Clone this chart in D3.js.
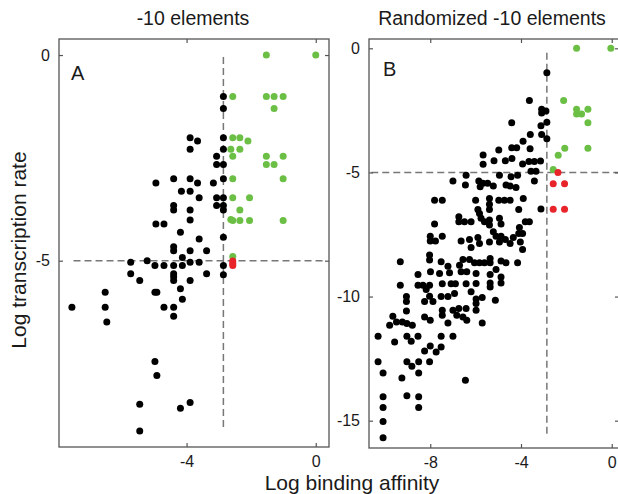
<!DOCTYPE html>
<html>
<head>
<meta charset="utf-8">
<script src="https://cdn.jsdelivr.net/npm/d3@7"></script>
<style>
  body { margin: 0; background: #fff; }
  svg { display: block; font-family: "Liberation Sans", Arial, sans-serif; }
</style>
</head>
<body>
<svg id="chart" width="618" height="494"></svg>
<script>
// panel A: -10 elements  [log binding affinity, log transcription rate]
const aBlack = [
  [-2.86,-1.01],[-2.86,-1.30],[-3.89,-2.01],[-3.66,-2.09],[-2.86,-2.01],[-3.89,-2.29],[-2.86,-2.29],
  [-3.07,-2.46],[-3.07,-2.66],[-2.86,-2.66],[-4.95,-3.11],[-4.40,-3.01],[-3.89,-3.01],[-3.66,-3.11],
  [-3.17,-3.11],[-2.86,-3.01],[-4.16,-3.31],[-3.89,-3.31],[-3.61,-3.47],[-3.07,-3.47],[-2.86,-3.47],
  [-4.40,-3.66],[-4.40,-3.77],[-3.89,-3.77],[-3.07,-3.66],[-2.86,-3.66],[-2.86,-3.77],[-3.89,-4.01],
  [-4.95,-4.11],[-4.70,-4.11],[-4.19,-4.31],[-3.61,-4.47],[-2.86,-4.43],
  [-4.40,-4.66],[-4.40,-4.76],[-3.89,-4.76],[-3.38,-4.76],[-4.13,-4.92],[-5.73,-5.04],[-5.22,-5.00],
  [-4.98,-5.12],[-4.70,-5.12],[-4.40,-5.12],[-4.13,-5.12],[-3.89,-5.04],[-3.61,-5.04],[-2.86,-5.12],
  [-5.73,-5.32],[-5.45,-5.48],[-4.40,-5.32],[-4.40,-5.39],[-4.40,-5.48],[-3.89,-5.48],[-3.38,-5.32],
  [-2.86,-5.34],[-6.52,-5.77],[-4.98,-5.77],[-4.92,-5.77],[-4.19,-5.68],[-4.13,-5.94],[-7.55,-6.13],
  [-6.52,-6.13],[-4.70,-6.13],[-4.40,-6.13],[-4.40,-6.35],[-6.47,-6.49],[-4.98,-7.45],[-4.92,-7.79],
  [-5.45,-8.49],[-4.19,-8.59],[-3.89,-8.45],[-5.45,-9.14]
];
const aGreen = [
  [-1.53,0],[0,0],[-2.57,-1.01],[-1.53,-1.01],[-1.29,-1.01],[-1.01,-1.01],[-1.29,-1.30],
  [-2.57,-2.01],[-2.35,-2.01],[-2.10,-2.09],[-2.63,-2.29],[-2.35,-2.29],[-2.57,-2.46],[-1.53,-2.46],
  [-1.01,-2.46],[-1.53,-2.66],[-1.29,-2.66],[-2.57,-3.01],[-1.01,-3.01],[-2.57,-3.47],[-2.05,-3.47],
  [-2.35,-3.77],[-2.63,-4.00],[-2.57,-4.02],[-2.35,-4.02],[-2.05,-4.02],[-1.01,-4.02],[-2.57,-4.90]
];
const aRed = [[-2.57,-5.01],[-2.57,-5.07],[-2.57,-5.12]];

// panel B: randomized -10 elements
const bBlack = [
  [-2.86,-0.98],[-3.63,-2.10],[-3.09,-2.45],[-3.09,-2.61],[-2.90,-2.53],[-2.86,-2.98],[-4.41,-3.00],
  [-3.12,-3.12],[-2.86,-3.64],[-3.09,-3.47],[-3.59,-3.47],[-3.91,-3.74],[-3.60,-4.05],[-4.41,-4.01],
  [-4.19,-4.01],[-4.98,-4.10],[-5.67,-4.30],[-5.19,-4.53],[-4.69,-4.53],[-4.40,-4.44],[-3.93,-4.66],
  [-3.65,-4.56],[-3.14,-4.54],[-5.67,-4.67],[-3.41,-4.56],
  [-3.56,-4.95],[-3.34,-4.95],[-7.00,-5.34],[-6.42,-5.11],[-6.45,-5.51],[-5.86,-5.34],[-5.68,-5.44],
  [-5.80,-5.58],[-5.47,-5.44],[-5.22,-5.55],[-4.95,-5.11],[-4.66,-5.51],[-4.48,-5.55],[-4.22,-5.61],
  [-4.15,-5.11],[-4.44,-5.17],[-3.41,-5.34],[-7.81,-6.12],[-7.47,-6.12],[-6.00,-6.12],[-5.39,-6.05],
  [-5.39,-6.28],[-5.39,-6.49],[-4.98,-6.12],[-4.73,-6.12],[-4.48,-6.12],[-3.90,-6.05],[-5.90,-6.49],
  [-5.83,-6.65],[-4.10,-6.49],[-3.12,-6.47],[-7.81,-7.08],[-6.74,-6.79],[-6.74,-6.99],[-6.49,-6.99],
  [-6.20,-6.99],[-5.76,-6.85],[-5.61,-6.99],[-5.39,-6.92],[-5.39,-7.12],[-4.95,-6.85],[-4.88,-7.08],
  [-3.81,-6.99],[-3.63,-6.99],[-4.07,-7.22],[-8.00,-7.57],[-8.00,-7.76],[-7.77,-7.76],[-7.47,-7.57],
  [-6.64,-7.76],[-6.27,-7.70],[-6.20,-8.02],[-5.90,-7.62],[-5.83,-7.86],[-5.39,-7.80],[-5.22,-7.39],
  [-5.10,-7.57],[-4.88,-7.57],[-4.95,-7.80],[-4.69,-7.70],[-4.34,-7.62],[-4.10,-7.46],[-3.93,-7.46],
  [-4.03,-7.80],[-4.48,-7.86],[-3.93,-8.10],
  [-9.32,-8.60],[-8.03,-8.33],[-8.03,-8.53],[-7.52,-8.60],[-7.22,-8.78],[-6.71,-8.74],[-6.56,-8.51],
  [-6.27,-8.51],[-8.54,-9.11],[-7.99,-9.00],[-7.59,-9.07],[-7.15,-9.04],[-6.64,-9.00],[-6.39,-9.00],
  [-9.32,-9.54],[-8.54,-9.54],[-8.32,-9.54],[-8.03,-9.54],[-8.18,-9.72],[-7.47,-9.48],[-7.08,-9.48],
  [-6.89,-9.48],[-6.42,-9.48],[-9.05,-10.00],[-9.05,-10.20],[-8.25,-10.20],[-7.88,-10.20],
  [-8.03,-9.99],[-7.52,-10.00],[-7.22,-10.00],[-6.93,-9.88],[-9.05,-10.58],[-8.25,-10.82],
  [-8.00,-10.95],[-9.65,-10.79],[-7.47,-10.55],[-7.47,-10.75],[-7.00,-10.55],[-6.74,-10.48],
  [-6.42,-10.48],[-6.83,-10.75],[-6.56,-10.82],[-6.39,-10.95],[-9.79,-11.16],[-9.49,-11.02],
  [-9.23,-11.02],[-9.03,-11.09],[-8.79,-11.16],[-7.22,-11.06],
  [-6.05,-8.64],[-5.83,-8.64],[-5.61,-8.64],[-5.36,-8.64],[-5.36,-8.47],[-4.88,-8.57],[-4.66,-8.64],
  [-4.15,-8.64],[-5.98,-9.07],[-5.36,-9.11],[-5.10,-8.91],[-4.88,-9.21],[-5.98,-9.47],[-5.36,-9.45],
  [-5.36,-9.61],[-4.88,-9.45],[-6.20,-9.81],[-5.98,-10.10],[-5.98,-10.28],[-5.71,-10.04],
  [-5.13,-10.15],[-5.98,-10.55],[-5.71,-11.06],
  [-10.30,-11.60],[-9.57,-11.83],[-9.03,-11.60],[-8.84,-11.80],[-8.54,-11.60],[-7.52,-11.60],
  [-7.00,-11.60],[-8.25,-12.19],[-8.00,-11.99],[-7.74,-12.23],[-7.52,-12.03],[-10.30,-12.63],
  [-9.03,-12.63],[-8.81,-12.81],[-8.51,-12.63],[-8.03,-12.63],[-10.08,-13.08],[-9.25,-13.28],
  [-8.51,-13.08],[-6.45,-13.37],[-10.08,-14.04],[-10.08,-14.47],[-10.08,-15.03],[-10.08,-15.69],
  [-9.03,-14.00],[-8.51,-14.04],[-8.51,-14.47]
];
const bGreen = [
  [-1.55,0],[-0.04,0],[-2.12,-2.10],[-1.55,-2.45],[-1.05,-2.45],[-1.55,-2.65],[-1.33,-2.65],
  [-1.05,-3.00],[-2.07,-4.03],[-1.05,-4.03],[-2.36,-4.31],[-2.58,-4.88]
];
const bRed = [[-2.37,-5.00],[-2.58,-5.46],[-2.08,-5.46],[-2.58,-6.48],[-2.08,-6.48]];

const aXTicks = [-4, 0];
const aYTicks = [0, -5];
const bXTicks = [-8, -4, 0];
const bYTicks = [0, -5, -10, -15];
const cutX = -2.86;
const cutY = -5;

const svg = d3.select('#chart');
const font = '"Liberation Sans", Arial, sans-serif';
const ink = '#1a1a1a';

function panel(opts) {
  const x = d3.scaleLinear(opts.xDomain, [opts.left, opts.right]);
  const y = d3.scaleLinear(opts.yDomain, [opts.top, opts.bottom]);
  const g = svg.append('g');

  // dashed threshold lines
  g.append('line').attr('x1', x(cutX)).attr('x2', x(cutX)).attr('y1', y(opts.vLine[0])).attr('y2', y(opts.vLine[1]))
    .attr('stroke', '#777').attr('stroke-width', 1.5).attr('stroke-dasharray', '7,4');
  g.append('line').attr('x1', x(opts.hLine[0])).attr('x2', x(opts.hLine[1])).attr('y1', y(cutY)).attr('y2', y(cutY))
    .attr('stroke', '#777').attr('stroke-width', 1.5).attr('stroke-dasharray', '7,4');

  const dots = (data, color) => g.append('g').selectAll('circle').data(data).join('circle')
    .attr('cx', (d) => x(d[0])).attr('cy', (d) => y(d[1])).attr('r', 3.5).attr('fill', color);
  dots(opts.black, '#000');
  dots(opts.green, '#6bbf45');
  dots(opts.red, '#e8232a');

  // axes with inward ticks, frame drawn separately; plain hyphen minus like the original
  const fmt = (d) => String(d);
  const ax = (axis, tx, ty, labels) => {
    const a = g.append('g').attr('transform', `translate(${tx},${ty})`).call(axis);
    a.select('.domain').remove();
    a.selectAll('line').attr('stroke', '#555').attr('stroke-width', 1.2);
    a.selectAll('text').attr('font-family', font).attr('font-size', 16).attr('fill', ink);
    if (!labels) a.selectAll('text').remove();
  };
  ax(d3.axisBottom(x).tickValues(opts.xTicks).tickFormat(fmt).tickSize(-4).tickPadding(9), 0, opts.bottom, true);
  ax(d3.axisTop(x).tickValues(opts.xTicks).tickSize(-4), 0, opts.top, false);
  ax(d3.axisLeft(y).tickValues(opts.yTicks).tickFormat(fmt).tickSize(-4).tickPadding(9), opts.left, 0, true);
  ax(d3.axisRight(y).tickValues(opts.yTicks).tickSize(-4), opts.right, 0, false);

  g.append('rect').attr('x', opts.left).attr('y', opts.top)
    .attr('width', opts.right - opts.left).attr('height', opts.bottom - opts.top)
    .attr('fill', 'none').attr('stroke', '#555').attr('stroke-width', 1.3);

  g.append('text').attr('x', opts.left + opts.letterDx).attr('y', opts.top + opts.letterDy).text(opts.letter)
    .attr('font-family', font).attr('font-size', 20).attr('fill', ink);
  g.append('text').attr('x', opts.titleX).attr('y', 25).attr('text-anchor', 'middle').text(opts.title)
    .attr('font-family', font).attr('font-size', 19.5).attr('fill', ink);
}

panel({
  left: 59, right: 329, top: 39, bottom: 447,
  xDomain: [-7.95, 0.41], yDomain: [0.39, -9.53],
  xTicks: aXTicks, yTicks: aYTicks,
  vLine: [-0.05, -9.07], hLine: [-7.5, 0.33],
  black: aBlack, green: aGreen, red: aRed,
  letter: 'A', letterDx: 12, letterDy: 41,
  title: '-10 elements', titleX: 193
});

panel({
  left: 369, right: 619, top: 39, bottom: 448,
  xDomain: [-10.7, 0.32], yDomain: [0.375, -16.1],
  xTicks: bXTicks, yTicks: bYTicks,
  vLine: [-0.18, -15.55], hLine: [-10.6, 0.32],
  black: bBlack, green: bGreen, red: bRed,
  letter: 'B', letterDx: 14, letterDy: 37,
  title: 'Randomized -10 elements', titleX: 492
});

svg.append('text').attr('x', 352).attr('y', 490).attr('text-anchor', 'middle').text('Log binding affinity')
  .attr('font-family', font).attr('font-size', 21).attr('fill', ink);
svg.append('text').attr('transform', 'translate(26,250) rotate(-90)').attr('text-anchor', 'middle')
  .text('Log transcription rate').attr('font-family', font).attr('font-size', 21).attr('fill', ink);
</script>
</body>
</html>
